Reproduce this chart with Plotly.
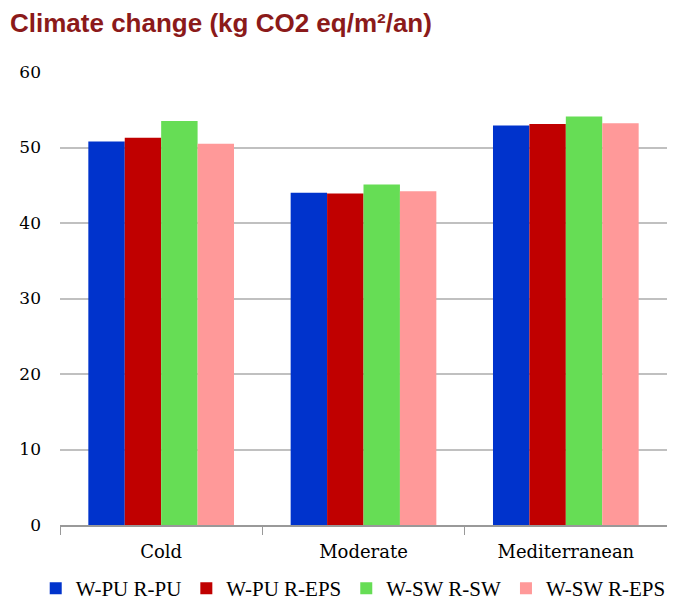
import plotly.graph_objects as go

categories = ["Cold", "Moderate", "Mediterranean"]
series_names = ["W-PU R-PU", "W-PU R-EPS", "W-SW R-SW", "W-SW R-EPS"]
w_pu_r_pu = [50.8, 44.0, 52.9]
w_pu_r_eps = [51.3, 43.9, 53.1]
w_sw_r_sw = [53.5, 45.1, 54.1]
w_sw_r_eps = [50.5, 44.2, 53.2]
y_ticks = [0, 10, 20, 30, 40, 50, 60]

colors = ["#0033CC", "#C00000", "#66DD55", "#FF9999"]
values = [w_pu_r_pu, w_pu_r_eps, w_sw_r_sw, w_sw_r_eps]

fig = go.Figure()
for name, vals, c in zip(series_names, values, colors):
    fig.add_trace(go.Bar(x=categories, y=vals, name=name, marker=dict(color=c, line=dict(width=0))))

fig.update_layout(
    width=675, height=613,
    barmode="group", bargap=0.28, bargroupgap=0,
    plot_bgcolor="white", paper_bgcolor="white",
    margin=dict(l=52, r=16, t=64, b=96),
    title=dict(text="<b>Climate change (kg CO2 eq/m²/an)</b>", x=0.003, xanchor="left",
               y=0.99, yanchor="top",
               font=dict(family="Liberation Sans, Arial", size=26, color="#8B1A1A")),
    legend=dict(orientation="h", x=-0.04, xanchor="left", y=-0.095, yanchor="top",
                font=dict(family="Liberation Serif, Times New Roman", size=21, color="#000"),
                itemwidth=30, tracegroupgap=0, traceorder="normal"),
    xaxis=dict(showline=True, linecolor="#999999", linewidth=1.5, ticks="outside",
               tickson="boundaries", ticklen=8, tickcolor="#999999", ticklabelstandoff=10,
               tickfont=dict(family="DejaVu Serif, Georgia", size=18, color="#000"),
               showgrid=False),
    yaxis=dict(range=[0, 60], tickvals=y_ticks, showgrid=True, gridcolor="#C0C0C0", gridwidth=1.5,
               zeroline=False, showline=False, ticklabelstandoff=18,
               tickfont=dict(family="DejaVu Serif, Georgia", size=17, color="#000")),
)

fig.write_html("out.html")
